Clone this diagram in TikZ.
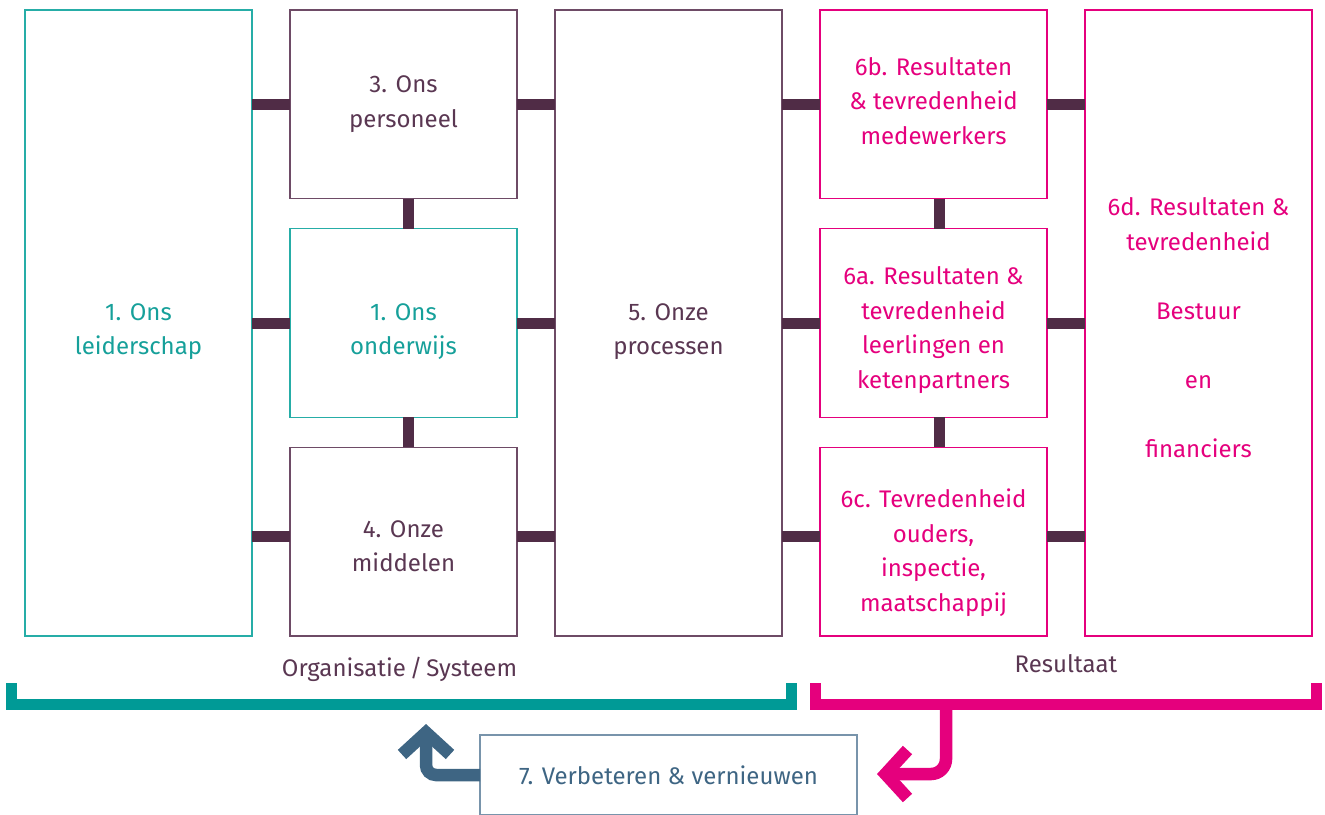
\documentclass[tikz,border=0pt]{standalone}
\usepackage{fontspec}
\setmainfont{Fira Sans}
\usetikzlibrary{positioning, arrows.meta}
\definecolor{tealline}{RGB}{38,173,167}
\definecolor{tealtext}{RGB}{22,160,154}
\definecolor{tealbar}{RGB}{0,154,150}
\definecolor{plum}{RGB}{90,55,82}
\definecolor{plumline}{RGB}{110,75,102}
\definecolor{plumbar}{RGB}{80,44,70}
\definecolor{pink}{RGB}{229,0,125}
\definecolor{steel}{RGB}{62,101,131}
\definecolor{steelline}{RGB}{120,148,171}
\tikzset{
      box/.style={
		draw,
		line width=0.7pt,
		minimum width=113.5pt,
		minimum height=94.33pt,
		inner sep=2pt,
		outer sep=0pt,
		align=center,
		font=\fontsize{12}{17.25}\selectfont,
	  },
  		tall box/.style={minimum height=313pt},
  		teal box/.style={box, draw=tealline, text=tealtext},
  		plum box/.style={box, draw=plumline, text=plum},
  		pink box/.style={box, draw=pink, text=pink},
  		steel box/.style={box, draw=steelline, text=steel, minimum width=188.5pt, minimum height=40pt},
  		bar/.style={draw=plumbar, line width=5.5pt},
  		bracket/.style={line width=5.5pt, line join=miter},
  		back arrow/.style={draw=#1, line width=6.25pt, -{Straight Barb[length=11pt, width=24pt]}},
  		caption/.style={text=plum, anchor=base, inner sep=0pt, font=\fontsize{12}{17.25}\selectfont},
  	}
\begin{document}
\begin{tikzpicture}[x=0.5pt, y=-0.5pt, node distance=15pt and 19pt]
    \useasboundingbox (0,0) rectangle (1325,814);
    % organisatie
    \node [teal box, tall box, text height=34.15pt] at (138.5,323) (lead) {1. Ons\\leiderschap};
    \node [teal box, right=of lead, text height=34.15pt] (teach) {1. Ons\\onderwijs};
    \node [plum box, above=of teach] (staff) {3. Ons\\personeel};
    \node [plum box, below=of teach, text height=30.15pt] (means) {4. Onze\\middelen};
    \node [plum box, tall box, right=of teach, text height=34.15pt] (proc) {5. Onze\\processen};
    % resultaat
    \node [pink box, right=of proc, text height=67.65pt] (pupils) {6a. Resultaten \&\\tevredenheid\\leerlingen en\\ketenpartners};
    \node [pink box, above=of pupils, text depth=3.5pt] (staffres) {6b. Resultaten\\\& tevredenheid\\medewerkers};
    \node [pink box, below=of pupils, text height=72.15pt] (parents) {6c. Tevredenheid\\ouders,\\inspectie,\\maatschappij};
    \node [pink box, tall box, right=of pupils, text height=134.15pt] (board) {6d. Resultaten \&\\tevredenheid\\[17.25pt]Bestuur\\[17.25pt]en\\[17.25pt]financiers};
    % bars
    \coordinate (lowrow) at ([yshift=2.75pt]means.center);
    \coordinate (leftcol) at ([xshift=2.25pt]teach.center);
    \coordinate (rightcol) at ([xshift=2.75pt]pupils.center);
    \draw [bar] (lead.east |- staff) -- (staff.west);
    \draw [bar] (lead.east) -- (teach.west);
    \draw [bar] (lead.east |- lowrow) -- (lowrow -| means.west);
    \draw [bar] (staff.east) -- (staff -| proc.west);
    \draw [bar] (teach.east) -- (proc.west);
    \draw [bar] (lowrow -| means.east) -- (lowrow -| proc.west);
    \draw [bar] (proc.east |- staffres) -- (staffres.west);
    \draw [bar] (proc.east) -- (pupils.west);
    \draw [bar] (lowrow -| proc.east) -- (lowrow -| parents.west);
    \draw [bar] (staffres.east) -- (staffres -| board.west);
    \draw [bar] (pupils.east) -- (board.west);
    \draw [bar] (lowrow -| parents.east) -- (lowrow -| board.west);
    \draw [bar] (leftcol |- staff.south) -- (leftcol |- teach.north);
    \draw [bar] (leftcol |- teach.south) -- (leftcol |- means.north);
    \draw [bar] (rightcol |- staffres.south) -- (rightcol |- pupils.north);
    \draw [bar] (rightcol |- pupils.south) -- (rightcol |- parents.north);
    % brackets
    \coordinate (orgL) at (11,683);
    \coordinate (orgR) at (791.5,683);
    \coordinate (resL) at (815.5,683);
    \coordinate (resR) at (1316.5,683);
    \draw [bracket, draw=tealbar] (orgL) -- ++(0,21.5) -| (orgR);
    \draw [bracket, draw=pink] (resL) -- ++(0,21.5) -| (resR);
    \node [caption] at (399.5,676) (orgtext) {Organisatie\,/\,Systeem};
    \node [caption] at (1066,672) (restext) {Resultaat};
    % verbeteren
    \node [steel box] at (668.5,775) (improve) {7. Verbeteren \& vernieuwen};
    \coordinate (backtip) at (426,724);
    \coordinate (pinkstem) at (946,704.5);
    \coordinate (fwdtip) at (877,774);
    \draw [back arrow=steel, rounded corners=5pt] (improve.west) -| (backtip);
    \draw [back arrow=pink, rounded corners=7.5pt] (pinkstem) |- (fwdtip);
  \end{tikzpicture}
\end{document}
